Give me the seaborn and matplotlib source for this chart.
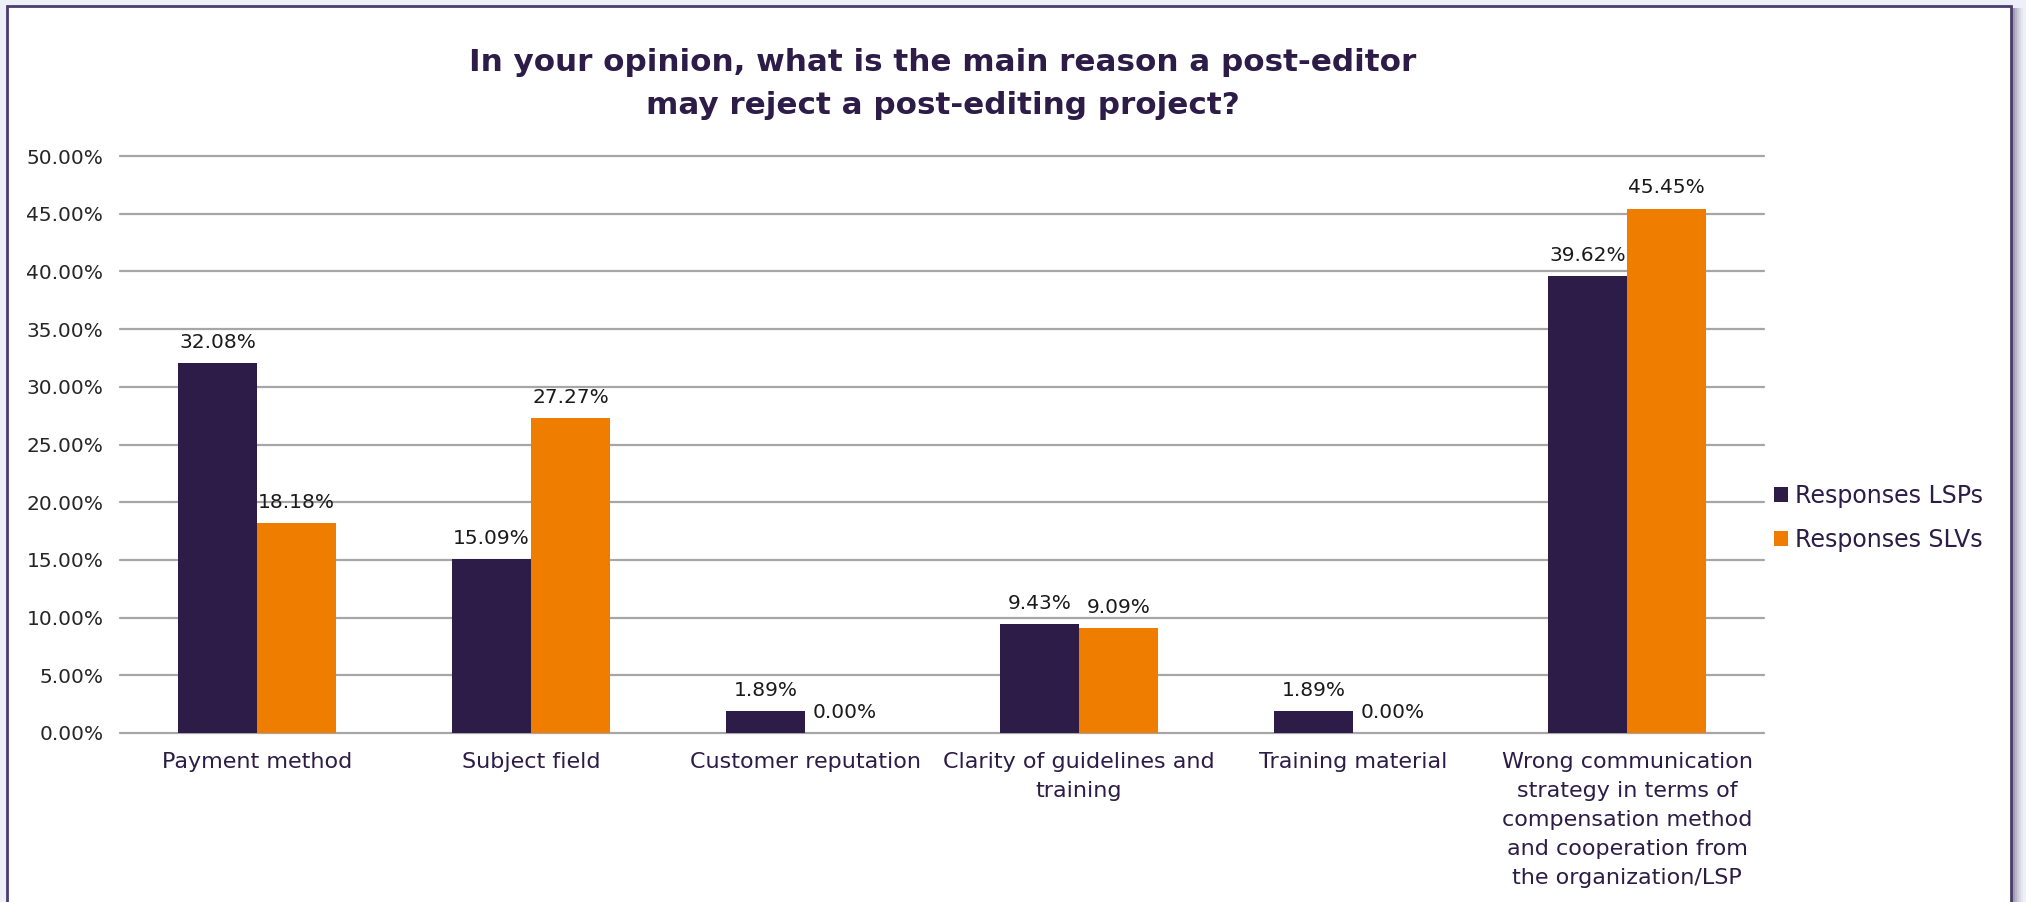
import pandas as pd
import seaborn as sns
import matplotlib.pyplot as plt
from matplotlib.patches import Rectangle

categories = ["Payment method", "Subject field", "Customer reputation",
              "Clarity of guidelines and\ntraining", "Training material",
              "Wrong communication\nstrategy in terms of\ncompensation method\nand cooperation from\nthe organization/LSP"]
lsp = [32.08, 15.09, 1.89, 9.43, 1.89, 39.62]
slv = [18.18, 27.27, 0.00, 9.09, 0.00, 45.45]
series = ["Responses LSPs", "Responses SLVs"]
yticks = [0, 5, 10, 15, 20, 25, 30, 35, 40, 45, 50]

purple = "#2c1c47"
orange = "#ee7d00"

sns.set_style("white")
plt.rcParams['font.family'] = ['DejaVu Sans']

df = pd.DataFrame({
    "category": categories * 2,
    "value": [v / 100 for v in lsp] + [v / 100 for v in slv],
    "series": [series[0]] * len(categories) + [series[1]] * len(categories),
})

fig = plt.figure(figsize=(20.26, 9.02), dpi=100)
fig.patch.set_facecolor("#eef0f9")

# card with border and right-side shadow
for i, a in enumerate([0.55, 0.4, 0.28, 0.18, 0.1, 0.05]):
    fig.patches.append(Rectangle((2011 / 2026 + i * 2 / 2026, 0), 2 / 2026, 1 - 8 / 902,
                                 transform=fig.transFigure, facecolor=purple, alpha=a,
                                 edgecolor="none", zorder=-5))
fig.patches.append(Rectangle((7 / 2026, -0.05), 2004 / 2026, 1.05 - 6 / 902,
                             transform=fig.transFigure, facecolor="white",
                             edgecolor="#4b3d6e", linewidth=2, zorder=-4))

ax = fig.add_axes([120 / 2026, 1 - 733 / 902, 1644 / 2026, 577 / 902])
ax.set_zorder(1)
ax.set_facecolor("none")
sns.barplot(data=df, x="category", y="value", hue="series", palette=[purple, orange],
            width=0.575, saturation=1, linewidth=0, ax=ax, zorder=3)

ax.set_ylim(0, 0.5)
ax.set_xlim(-0.5, len(categories) - 0.5)
ax.set_yticks([t / 100 for t in yticks])
ax.set_yticklabels([f"{t:.2f}%" for t in yticks], fontsize=14.5, color="#262626")
ax.set_xticks(range(len(categories)))
ax.set_xticklabels(categories, fontsize=16, color=purple, linespacing=1.55)
ax.tick_params(axis="both", length=0)
ax.tick_params(axis="y", pad=12)
ax.tick_params(axis="x", pad=14)
ax.set_xlabel("")
ax.set_ylabel("")
ax.grid(axis="y", color="#a6a6a6", linewidth=1.6, zorder=0)
ax.set_axisbelow(True)
for line in ax.get_ygridlines():
    line.set_clip_on(False)
for s in ax.spines.values():
    s.set_visible(False)

for cont, vals in zip(ax.containers, [lsp, slv]):
    ax.bar_label(cont, labels=[f"{v:.2f}%" for v in vals], padding=8,
                 fontsize=14.5, color="#1a1a1a")

handles, labels = ax.get_legend_handles_labels()
ax.legend(handles, labels, loc="center left", bbox_to_anchor=(1774 / 2026, 1 - 518 / 902),
          bbox_transform=fig.transFigure, frameon=False, fontsize=17,
          handlelength=0.6, handleheight=0.6, handletextpad=0.3, labelspacing=0.85,
          borderpad=0, borderaxespad=0, labelcolor=purple)

fig.text(943 / 2026, 1 - 84 / 902,
         "In your opinion, what is the main reason a post-editor\nmay reject a post-editing project?",
         ha="center", va="center", fontsize=22.3, fontweight="bold", color=purple,
         linespacing=1.62)

fig.savefig("out.png", dpi=100)
